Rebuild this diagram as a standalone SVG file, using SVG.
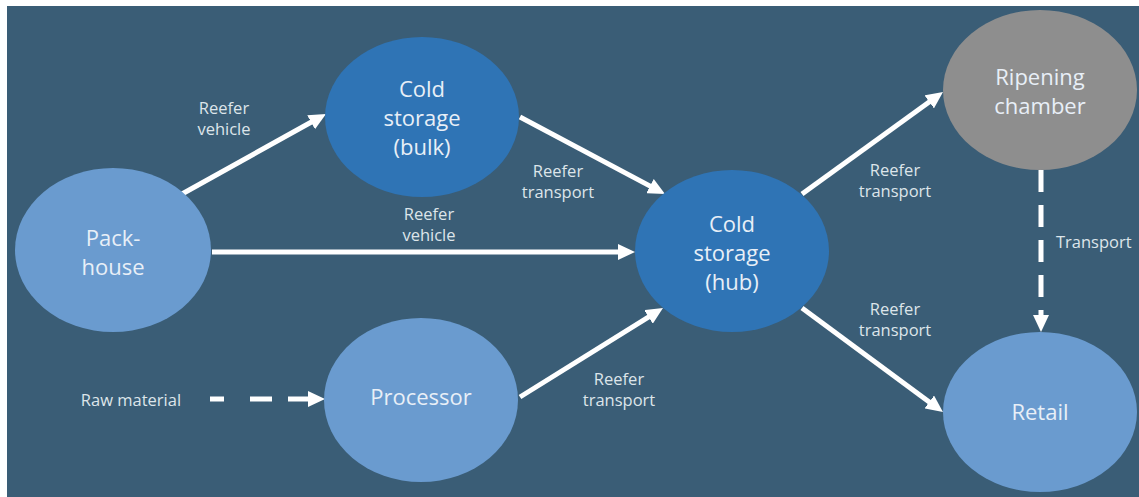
<svg xmlns="http://www.w3.org/2000/svg" width="1139" height="497" viewBox="0 0 1139 497">
<defs>
<style>
.bg{fill:#3a5d76}
.light{fill:#6a9bcf}
.dark{fill:#2f74b5}
.gray{fill:#8e8e8e}
.nt{font-family:"Open Sans","Liberation Sans",sans-serif;font-size:22px;fill:#e8eff7;text-anchor:middle}
.lt{font-family:"Open Sans","Liberation Sans",sans-serif;font-size:16.5px;fill:#dde5ea;text-anchor:middle}
.ln{stroke:#ffffff;stroke-width:5;fill:none;marker-end:url(#ah)}
</style>
<marker id="ah" markerUnits="userSpaceOnUse" markerWidth="18" markerHeight="16" refX="5" refY="8" orient="auto">
<path d="M0,0 L17,8 L0,16 Z" fill="#ffffff"/>
</marker>
</defs>
<rect x="0" y="0" width="1139" height="497" fill="#ffffff"/>
<rect class="bg" x="7" y="6" width="1132" height="491"/>

<g id="connectors">
<path class="ln" d="M182,194 L315.5,119.8"/>
<path class="ln" d="M520,117 L654.4,188.4"/>
<path class="ln" d="M212,252 L623,252"/>
<path class="ln" d="M520,397 L652.8,314.3"/>
<path class="ln" d="M802,194 L933.3,99"/>
<path class="ln" d="M802,308 L933.3,404.9"/>
<path class="ln" d="M210,399 H224 M250,399 H272 M288,399 H313"/>
<path class="ln" d="M1041,170 V192 M1041,205 V227 M1041,240 V262 M1041,275 V297 M1041,310 V320"/>
<text class="lt" x="224" y="114">Reefer<tspan x="224" dy="21">vehicle</tspan></text>
<text class="lt" x="558" y="177">Reefer<tspan x="558" dy="21">transport</tspan></text>
<text class="lt" x="429" y="220">Reefer<tspan x="429" dy="21">vehicle</tspan></text>
<text class="lt" x="895" y="176">Reefer<tspan x="895" dy="21">transport</tspan></text>
<text class="lt" x="1056" y="248" style="text-anchor:start">Transport</text>
<text class="lt" x="895" y="315">Reefer<tspan x="895" dy="21">transport</tspan></text>
<text class="lt" x="619" y="385">Reefer<tspan x="619" dy="21">transport</tspan></text>
<text class="lt" x="131" y="406">Raw material</text>
</g>

<g id="packhouse">
<ellipse class="light" cx="113" cy="250" rx="98" ry="82"/>
<text class="nt" x="113" y="246">Pack-<tspan x="113" dy="29">house</tspan></text>
</g>
<g id="coldbulk">
<ellipse class="dark" cx="422" cy="117" rx="97" ry="80"/>
<text class="nt" x="422" y="97">Cold<tspan x="422" dy="29">storage</tspan><tspan x="422" dy="29">(bulk)</tspan></text>
</g>
<g id="coldhub">
<ellipse class="dark" cx="732" cy="251" rx="97" ry="81"/>
<text class="nt" x="732" y="232">Cold<tspan x="732" dy="29">storage</tspan><tspan x="732" dy="29">(hub)</tspan></text>
</g>
<g id="processor">
<ellipse class="light" cx="421" cy="400" rx="97" ry="82"/>
<text class="nt" x="421" y="405">Processor</text>
</g>
<g id="ripening">
<ellipse class="gray" cx="1040" cy="90" rx="97" ry="80"/>
<text class="nt" x="1040" y="85">Ripening<tspan x="1040" dy="29">chamber</tspan></text>
</g>
<g id="retail">
<ellipse class="light" cx="1040" cy="412" rx="97" ry="80"/>
<text class="nt" x="1040" y="420">Retail</text>
</g>
</svg>
